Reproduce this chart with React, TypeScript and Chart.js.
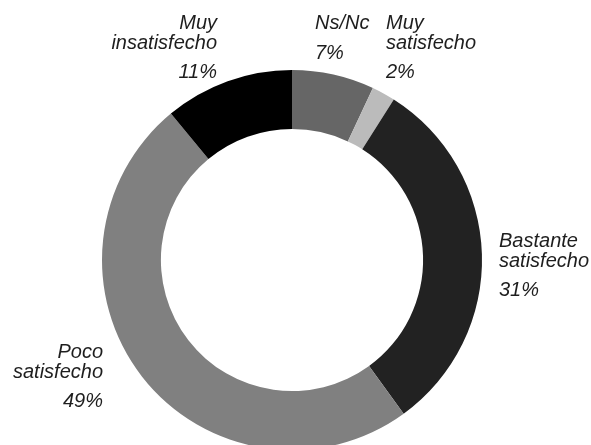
import React, { useEffect, useRef } from "react";
import { Chart, registerables } from "chart.js";

Chart.register(...registerables);

const categories: string[][] = [
  ["Ns/Nc"],
  ["Muy", "satisfecho"],
  ["Bastante", "satisfecho"],
  ["Poco", "satisfecho"],
  ["Muy", "insatisfecho"],
];
const values: number[] = [7, 2, 31, 49, 11];
const percentLabels: string[] = ["7%", "2%", "31%", "49%", "11%"];
const colors: string[] = ["#666666", "#bbbbbb", "#222222", "#808080", "#000000"];

// label placement relative to the doughnut centre (px)
const labelLayout = [
  { dx: 23, dy: -231, align: "left" },
  { dx: 94, dy: -231, align: "left" },
  { dx: 207, dy: -13, align: "left" },
  { dx: -189, dy: 98, align: "right" },
  { dx: -75, dy: -231, align: "right" },
];

const labelPlugin = {
  id: "sliceLabels",
  afterDraw(chart: any) {
    const meta = chart.getDatasetMeta(0);
    const arc = meta.data[0];
    if (!arc) return;
    const cx = arc.x;
    const cy = arc.y;
    const ctx = chart.ctx;
    ctx.save();
    ctx.font = 'italic 20px "Liberation Sans", Arial, sans-serif';
    ctx.fillStyle = "#1e1e1e";
    ctx.textBaseline = "alphabetic";
    categories.forEach((lines, i) => {
      const lay = labelLayout[i];
      ctx.textAlign = lay.align as CanvasTextAlign;
      const x = cx + lay.dx;
      let y = cy + lay.dy;
      lines.forEach((line, j) => {
        ctx.fillText(line, x, y + j * 19.5);
      });
      y = y + (lines.length - 1) * 19.5 + 29.5;
      ctx.fillText(percentLabels[i], x, y);
    });
    ctx.restore();
  },
};

export default function App() {
  const ref = useRef<HTMLCanvasElement | null>(null);
  useEffect(() => {
    if (!ref.current) return;
    const chart = new Chart(ref.current, {
      type: "doughnut",
      data: {
        labels: categories.map((l) => l.join(" ")),
        datasets: [
          {
            data: values,
            backgroundColor: colors,
            borderWidth: 0,
          },
        ],
      },
      options: {
        responsive: false,
        animation: false,
        cutout: "69%",
        layout: { padding: { left: 102, right: 109, top: 70, bottom: 20 } },
        plugins: {
          legend: { display: false },
          tooltip: { enabled: false },
        },
      },
      plugins: [labelPlugin],
    });
    return () => chart.destroy();
  }, []);
  return (
    <div
      style={{
        position: "fixed",
        left: 0,
        top: 0,
        width: 591,
        height: 445,
        overflow: "hidden",
        background: "#fff",
      }}
    >
      <canvas ref={ref} width={591} height={470} style={{ width: 591, height: 470, display: "block" }} />
    </div>
  );
}
